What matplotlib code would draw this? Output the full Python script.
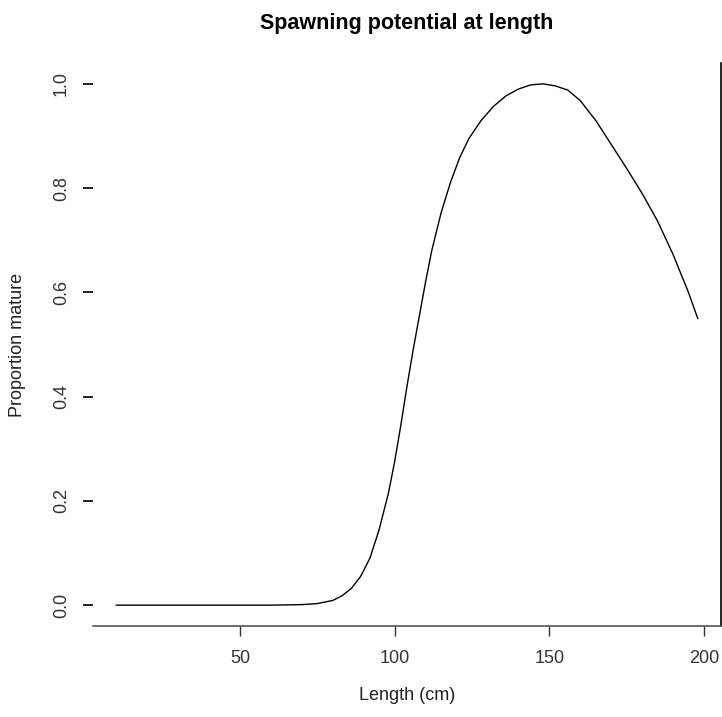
import matplotlib
matplotlib.use("Agg")
import matplotlib.pyplot as plt

plt.rcParams['font.family'] = ['Liberation Sans', 'DejaVu Sans']

title = "Spawning potential at length"
x_label = "Length (cm)"
y_label = "Proportion mature"

length_cm = [10, 20, 30, 40, 50, 60, 65, 70, 75, 80, 83, 86, 89, 92, 95, 98,
             100, 102, 104, 106, 108, 110, 112, 115, 118, 121, 124, 128, 132,
             136, 140, 144, 148, 152, 156, 160, 165, 170, 175, 180, 185, 190,
             195, 198]
proportion = [0.0, 0.0, 0.0, 0.0, 0.0, 0.0, 0.0005, 0.001, 0.003, 0.009, 0.018,
              0.032, 0.055, 0.09, 0.145, 0.215, 0.275, 0.345, 0.42, 0.49, 0.555,
              0.62, 0.68, 0.752, 0.81, 0.858, 0.895, 0.93, 0.957, 0.977, 0.99,
              0.998, 1.0, 0.996, 0.988, 0.968, 0.93, 0.884, 0.838, 0.79, 0.737,
              0.673, 0.60, 0.55]

x_ticks = [50, 100, 150, 200]
y_ticks = [0.0, 0.2, 0.4, 0.6, 0.8, 1.0]
y_tick_labels = ["0.0", "0.2", "0.4", "0.6", "0.8", "1.0"]

fig = plt.figure(figsize=(7.22, 7.17), dpi=100)
ax = fig.add_axes([93 / 722, 1 - 626 / 717, 628 / 722, 563 / 717])

ax.plot(length_cm, proportion, color='black', lw=1.0)

rng = max(length_cm) - min(length_cm)
ax.set_xlim(min(length_cm) - 0.04 * rng, max(length_cm) + 0.04 * rng)
ax.set_ylim(-0.04, 1.04)

ax.spines['left'].set_visible(False)
ax.spines['top'].set_visible(False)
ax.spines['bottom'].set_color('#555555')
ax.spines['bottom'].set_linewidth(1.2)
ax.spines['right'].set_color('black')
ax.spines['right'].set_linewidth(1.2)

ax.set_xticks(x_ticks)
ax.set_xticklabels([str(t) for t in x_ticks])
ax.set_yticks(y_ticks)
ax.set_yticklabels(y_tick_labels, rotation=90, va='center')

ax.tick_params(axis='x', length=7.5, width=1.0, pad=10, labelsize=13,
               labelcolor='#333333', color='#333333')
ax.tick_params(axis='y', length=7.5, width=1.2, pad=9, labelsize=13,
               labelcolor='#333333', color='black')

ax.set_xlabel(x_label, fontsize=13, color='#222222')
ax.set_ylabel(y_label, fontsize=13, color='#222222')
ax.xaxis.set_label_coords(0.5, (626 - 695) / 563)
ax.yaxis.set_label_coords((18 - 93) / 628, 0.5)
ax.xaxis.label.set_va('center')
ax.yaxis.label.set_va('center')

fig.text(407 / 722, 1 - 23 / 717, title, ha='center', va='center',
         fontsize=15.5, fontweight='bold')

fig.savefig("out.png", dpi=100)
